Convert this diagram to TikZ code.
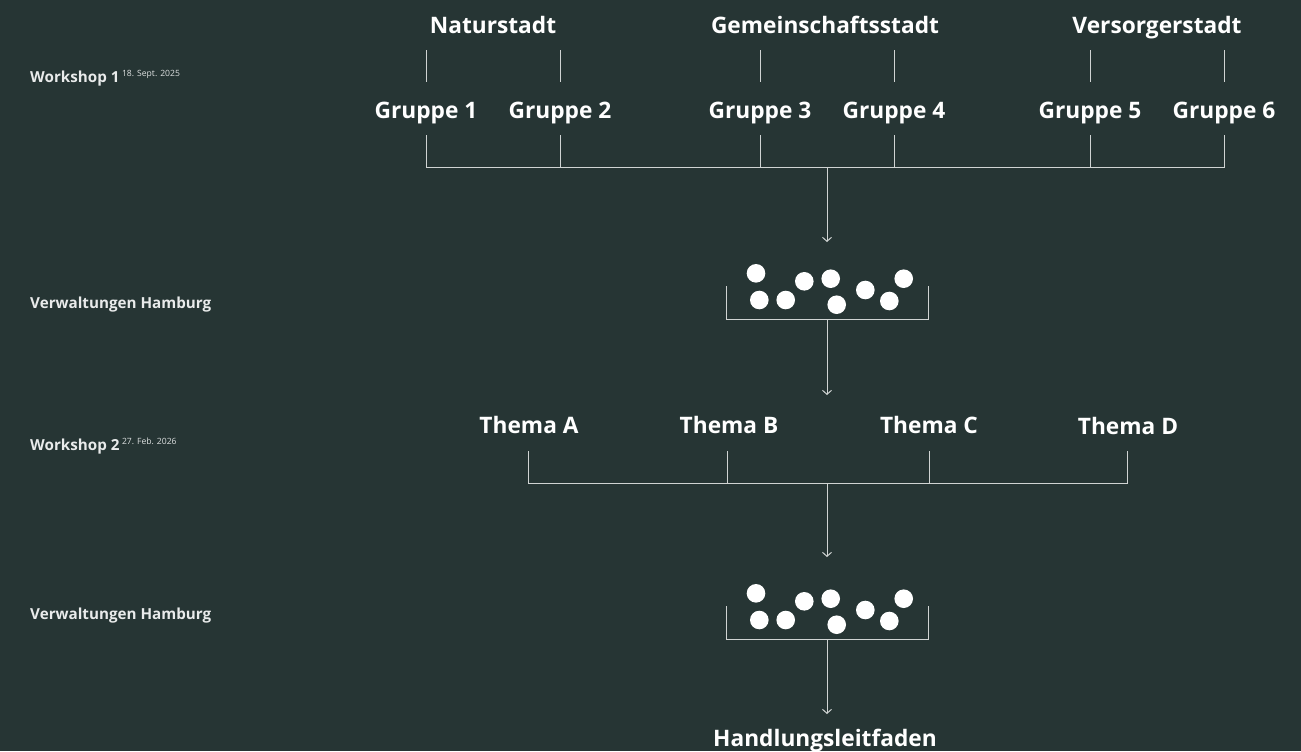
\documentclass[tikz,border=0pt]{standalone}
\usepackage{fontspec}
\setmainfont{Open Sans}
\usetikzlibrary{arrows.meta}
\definecolor{bgteal}{HTML}{263534}
\definecolor{wirecol}{HTML}{D0D4D3}

\begin{document}
\begin{tikzpicture}[x=1pt, y=-1pt,
  title/.style={text=white, font=\fontsize{22.7}{27}\selectfont\bfseries, inner sep=0pt, anchor=base},
  side/.style={text=white!90!bgteal, font=\fontsize{15.2}{18}\selectfont\bfseries, inner sep=0pt, anchor=base west},
  wire/.style={wirecol, line width=1pt},
  flow/.style={wire, -{Straight Barb[length=4pt, width=9pt]}},
  ball/.style={fill=white, draw=none}]

  \fill[bgteal] (0,0) rectangle (1301,751);

  % left column
  \node[side] (ws1) at (30,82) {Workshop 1\,\raisebox{5.5pt}{\fontsize{8.6}{10}\selectfont\mdseries\color{white!85!bgteal}18. Sept. 2025}};
  \node[side] (vh1) at (30,308.5) {Verwaltungen Hamburg};
  \node[side] (ws2) at (30,450) {Workshop 2\,\raisebox{5.5pt}{\fontsize{8.6}{10}\selectfont\mdseries\color{white!85!bgteal}27. Feb. 2026}};
  \node[side] (vh2) at (30,619.5) {Verwaltungen Hamburg};

  % workshop 1
  \node[title] (natur) at (493,33.3) {Naturstadt};
  \node[title] (gemein) at (825,33.3) {Gemeinschaftsstadt};
  \node[title] (versorg) at (1157,33.3) {Versorgerstadt};

  \node[title] (g1) at (426,118.3) {Gruppe 1};
  \node[title] (g2) at (560,118.3) {Gruppe 2};
  \node[title] (g3) at (760,118.3) {Gruppe 3};
  \node[title] (g4) at (894,118.3) {Gruppe 4};
  \node[title] (g5) at (1090,118.3) {Gruppe 5};
  \node[title] (g6) at (1224,118.3) {Gruppe 6};

  \draw[wire] (426,50) -- (426,82);
  \draw[wire] (560,50) -- (560,82);
  \draw[wire] (760,50) -- (760,82);
  \draw[wire] (894,50) -- (894,82);
  \draw[wire] (1090,50) -- (1090,82);
  \draw[wire] (1224,50) -- (1224,82);

  \coordinate (junA) at (827,167);
  \draw[wire] (426,135) -- (426,167) -- (1224,167) -- (1224,135);
  \draw[wire] (560,135) -- (560,167);
  \draw[wire] (760,135) -- (760,167);
  \draw[wire] (894,135) -- (894,167);
  \draw[wire] (1090,135) -- (1090,167);

  % the two groups of people
  \foreach \oy in {0,320} {
    \draw[wire] (726,286+\oy) -- (726,319+\oy) -- (928,319+\oy) -- (928,286+\oy);
    \fill[ball] (756,273.3+\oy) circle (9.3);
    \fill[ball] (759.3,300+\oy) circle (9.3);
    \fill[ball] (785.7,300+\oy) circle (9.3);
    \fill[ball] (804.3,281.3+\oy) circle (9.3);
    \fill[ball] (830.7,278.7+\oy) circle (9.3);
    \fill[ball] (836.7,304.7+\oy) circle (9.3);
    \fill[ball] (865.3,290+\oy) circle (9.3);
    \fill[ball] (903.7,278.7+\oy) circle (9.3);
    \fill[ball] (889.3,301+\oy) circle (9.3);
  }
  \coordinate (bowlAtop) at (827,242);
  \coordinate (bowlAbot) at (827,319);
  \coordinate (bowlBtop) at (827,557);
  \coordinate (bowlBbot) at (827,639);

  % workshop 2
  \node[title] (thA) at (529,433.3) {Thema A};
  \node[title] (thB) at (729,433.3) {Thema B};
  \node[title] (thC) at (929,433.3) {Thema C};
  \node[title] (thD) at (1128,434) {Thema D};

  \coordinate (themesIn) at (827,395);
  \coordinate (junB) at (827,483);
  \draw[wire] (528,451) -- (528,483) -- (1127,483) -- (1127,451);
  \draw[wire] (727,451) -- (727,483);
  \draw[wire] (929,451) -- (929,483);

  \node[title] (hlf) at (825,746) {Handlungsleitfaden};
  \coordinate (hlfIn) at (827,714);

  \draw[flow] (junA) -- (bowlAtop);
  \draw[flow] (bowlAbot) -- (themesIn);
  \draw[flow] (junB) -- (bowlBtop);
  \draw[flow] (bowlBbot) -- (hlfIn);

\end{tikzpicture}
\end{document}
